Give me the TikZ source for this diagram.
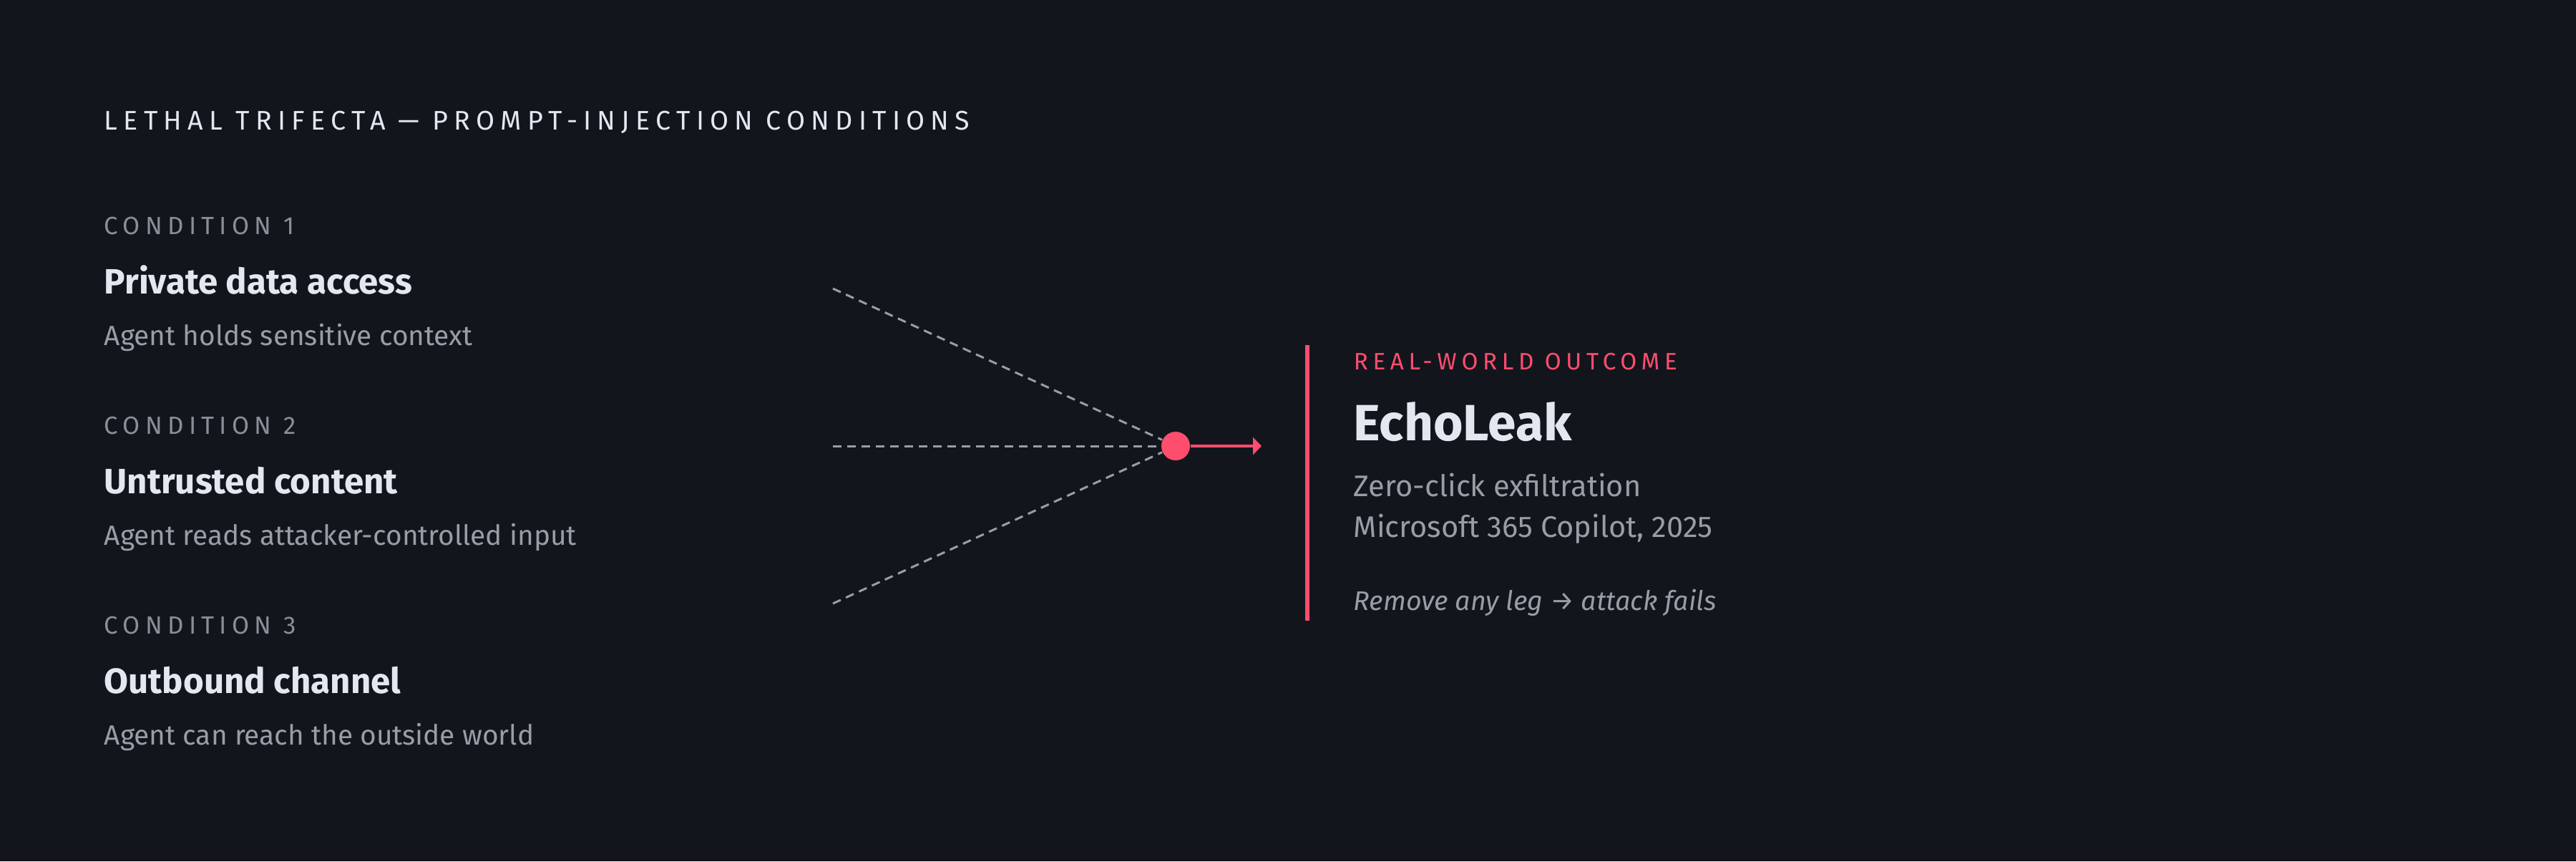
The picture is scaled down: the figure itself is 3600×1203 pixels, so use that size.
\documentclass[tikz,border=0pt]{standalone}
\usepackage{fontspec}
\setmainfont{Fira Sans}
\newfontfamily\headfont[LetterSpace=22]{Fira Sans}
\newfontfamily\labelfont[LetterSpace=21]{Fira Sans}
\newfontfamily\kindfont[LetterSpace=20]{Fira Sans}
\usetikzlibrary{arrows.meta}

\definecolor{bgdark}{HTML}{13151D}
\definecolor{lightink}{HTML}{E4E6F0}
\definecolor{labelgrey}{HTML}{8B8E98}
\definecolor{descgrey}{HTML}{9A9CA6}
\definecolor{alertred}{HTML}{FF4D6D}

\begin{document}
\begin{tikzpicture}[x=0.25pt,y=0.25pt,
		every node/.style={inner sep=0pt, anchor=base west},
		headline/.style={font=\headfont\fontsize{9.4pt}{11pt}\selectfont, text=lightink},
		condlabel/.style={font=\labelfont\fontsize{8.7pt}{10pt}\selectfont, text=labelgrey},
		condname/.style={font=\bfseries\fontsize{12.3pt}{14pt}\selectfont, text=lightink},
		conddesc/.style={font=\fontsize{9.7pt}{12pt}\selectfont, text=descgrey},
		leg/.style={draw=descgrey, line width=0.75pt, dash pattern=on 3pt off 2pt},
		hub/.style={circle, fill=alertred, minimum size=10pt, anchor=center}]
		% background and frame
		\fill [bgdark] (0,0) rectangle (3600,-1203);
		\node [headline] (head) at (145,-181) {LETHAL TRIFECTA — PROMPT-INJECTION CONDITIONS};
		% the three conditions
		\node [condlabel] (lab1) at (145,-327) {CONDITION 1};
		\node [condname] (name1) at (145,-410) {Private data access};
		\node [conddesc] (desc1) at (145,-482) {Agent holds sensitive context};
		\node [condlabel] (lab2) at (145,-606) {CONDITION 2};
		\node [condname] (name2) at (145,-689) {Untrusted content};
		\node [conddesc] (desc2) at (145,-761) {Agent reads attacker-controlled input};
		\node [condlabel] (lab3) at (145,-885) {CONDITION 3};
		\node [condname] (name3) at (145,-968) {Outbound channel};
		\node [conddesc] (desc3) at (145,-1040) {Agent can reach the outside world};
		% legs into the hub
		\node [hub] (hub) at (1643,-623) {};
		\coordinate (leg1) at (1164,-403);
		\coordinate (leg2) at (1164,-623);
		\coordinate (leg3) at (1164,-843);
		\coordinate (out) at (1763,-623);
		\draw [leg] (leg1) -- (hub);
		\draw [leg] (leg2) -- (hub);
		\draw [leg] (leg3) -- (hub);
		\draw [alertred, line width=1pt, -{Triangle[length=3pt,width=6pt]}] (hub) -- (out);
		% outcome
		\draw [alertred, line width=1.5pt] (1827,-482) -- (1827,-867);
		\node [font=\kindfont\fontsize{8.3pt}{10pt}\selectfont, text=alertred] (kind) at (1891,-516) {REAL-WORLD OUTCOME};
		\node [font=\bfseries\fontsize{17.8pt}{20pt}\selectfont, text=lightink] (echo) at (1891,-615) {EchoLeak};
		\node [font=\fontsize{10.4pt}{12pt}\selectfont, text=descgrey] (what) at (1891,-693) {Zero-click exfiltration};
		\node [font=\fontsize{10.4pt}{12pt}\selectfont, text=descgrey] (where) at (1891,-750) {Microsoft 365 Copilot, 2025};
		\node [font=\itshape\fontsize{9.4pt}{12pt}\selectfont, text=descgrey] (note) at (1891,-852) {Remove any leg → attack fails};
	\end{tikzpicture}
\end{document}
